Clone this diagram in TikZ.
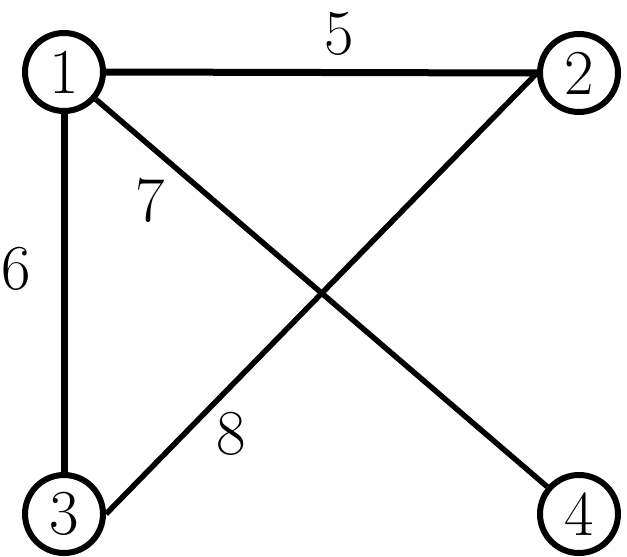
\documentclass[tikz,border=0pt]{standalone}
\usepackage{fontspec}
\begin{document}
\begin{tikzpicture}[x=1pt,y=-1pt,
  vert/.style={draw,circle,line width=6pt,minimum size=78pt,inner sep=0pt,font=\fontsize{64}{70}\selectfont},
  edge/.style={line width=7pt},
  diag/.style={line width=5.5pt},
  wlabel/.style={inner sep=0pt,font=\fontsize{64}{70}\selectfont}]
\useasboundingbox (0,0) rectangle (627,557);
\node[vert] (n1) at (64,72) {1};
\node[vert] (n2) at (579,73) {2};
\node[vert] (n3) at (64,514) {3};
\node[vert] (n4) at (579,514) {4};
\draw[edge] (n1.east) -- (n2.west);
\draw[edge] (n1.south) -- (n3.north);
\draw[diag] (n1) -- (n4);
\draw[diag] (n2.west) -- (n3.east);
\node[wlabel] (l5) at (339,34) {5};
\node[wlabel] (l7) at (150,200) {7};
\node[wlabel] (l6) at (16,269) {6};
\node[wlabel] (l8) at (231,434) {8};
\end{tikzpicture}
\end{document}
